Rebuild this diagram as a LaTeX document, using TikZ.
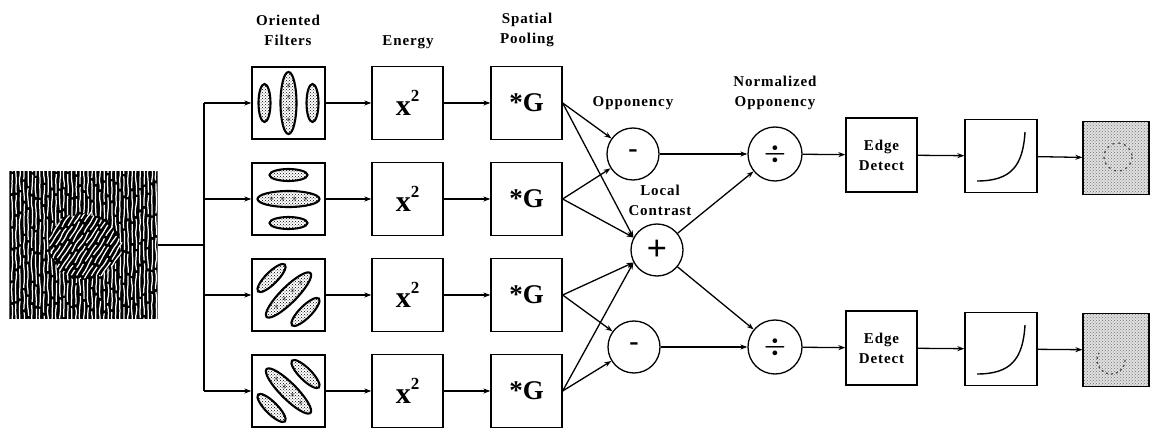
\documentclass[tikz,border=0pt]{standalone}
\usepackage{amsmath}
\usepackage{fontspec}
\setmainfont{Liberation Serif}
\newfontfamily\labfont[LetterSpace=6]{Liberation Serif}
\usetikzlibrary{arrows.meta,patterns,decorations.pathmorphing,calc}

% three elongated receptive fields inside a filter box, clipped to the box
\newcommand\filtericon[2]{%
  \begin{scope}
    \clip (#1.south west) rectangle (#1.north east);
    \begin{scope}[shift={(#1.center)}, rotate=#2]
      \foreach \dx/\ra/\rb in {-24/6/19, 0/8/31, 24/6/19}{
        \draw[line width=2.1pt, pattern=crosshatch dots, pattern color=black]
          (\dx,0) ellipse ({\ra} and {\rb});
      }
      \foreach \t in {-17,-6,6,17}
        \node[inner sep=0pt, font=\fontsize{10}{10}\selectfont] at (0,\t) {$\ast$};
    \end{scope}
  \end{scope}}

\begin{document}
\begin{tikzpicture}[x=1pt, y=-1pt, line width=1.3pt,
  box/.style={draw, minimum width=71pt, minimum height=73pt, inner sep=0pt},
  opnode/.style={draw, circle, minimum size=52pt, inner sep=0pt},
  divnode/.style={draw, circle, minimum size=54pt, inner sep=0pt},
  lab/.style={font=\labfont\bfseries\fontsize{15}{20}\selectfont, align=center},
  arr/.style={-{Stealth[length=7pt,width=5pt]}},
  outbox/.style={box, minimum width=66pt, preaction={fill=black!12},
                 pattern=crosshatch dots, pattern color=black!55},
  streak/.style={white, line width=1.25pt, rounded corners=2pt, decorate,
                 decoration={random steps, segment length=6pt, amplitude=0.8pt}}
]
\useasboundingbox (0,0) rectangle (1152,430);

% ---------- input texture ----------
\node[minimum width=147pt, minimum height=146pt, inner sep=0pt] (tex) at (83.5,245) {};
\begin{scope}
  \clip (tex.south west) rectangle (tex.north east);
  \fill[black] (tex.south west) rectangle (tex.north east);
  \pgfmathsetseed{11}
  \foreach \x in {12,16,...,158}{
    \pgfmathsetmacro\ph{rnd*40}
    \draw[streak, dash pattern=on 30pt off 2.5pt on 19pt off 3pt, dash phase=\ph pt]
      (\x,168) -- (\x,322);
  }
  \fill[black, decorate, decoration={random steps, segment length=6pt, amplitude=3pt}]
    (85,246) ellipse (35 and 32);
  \clip[decorate, decoration={random steps, segment length=6pt, amplitude=3pt}]
    (85,246) ellipse (35 and 32);
  \foreach \d in {-80,-75,...,80}{
    \pgfmathsetmacro\ph{rnd*20}
    \draw[streak, dash pattern=on 20pt off 3pt, dash phase=\ph pt]
      (85+\d-30,246+48) -- (85+\d+30,246-48);
  }
\end{scope}

% ---------- filter, energy and pooling rows ----------
\foreach \i/\y in {1/103, 2/199, 3/295, 4/391}{
  \node[box, minimum width=73pt, minimum height=72pt] (f\i) at (288.5,\y) {};
  \node[box] (e\i) at (407.5,\y) {\bfseries\fontsize{30}{30}\selectfont x\raisebox{0.45em}{\fontsize{17}{17}\selectfont 2}};
  \node[box] (g\i) at (526.5,\y) {\bfseries\fontsize{27}{27}\selectfont *G};
}
\filtericon{f1}{0}
\filtericon{f2}{90}
\filtericon{f3}{-45}
\filtericon{f4}{45}

% distribution bus
\coordinate (bt) at (204,103);
\coordinate (bb) at (204,391);
\coordinate (bm) at (204,245);
\coordinate (b2) at (204,199);
\coordinate (b3) at (204,295);
\draw (tex.east) -- (bm);
\draw (bt) -- (bb);
\draw[arr] (bt) -- (f1.west);
\draw[arr] (b2) -- (f2.west);
\draw[arr] (b3) -- (f3.west);
\draw[arr] (bb) -- (f4.west);
\foreach \i in {1,...,4}{
  \draw[arr] (f\i.east) -- (e\i.west);
  \draw[arr] (e\i.east) -- (g\i.west);
}

% ---------- opponency stage ----------
\node[opnode] (m1) at (633,154) {\bfseries\fontsize{28}{28}\selectfont -};
\node[opnode] (pl) at (657,250) {\bfseries\fontsize{36}{36}\selectfont +};
\node[opnode] (m2) at (634,347) {\bfseries\fontsize{28}{28}\selectfont -};
\node[divnode] (d1) at (775,154) {\fontsize{34}{34}\selectfont $\boldsymbol{\div}$};
\node[divnode] (d2) at (775,347) {\fontsize{34}{34}\selectfont $\boldsymbol{\div}$};

\draw[arr] (g1.east) -- (m1);
\draw[arr] (g2.east) -- (m1);
\draw[arr] (g1.east) -- (pl.152);
\draw[arr] (g2.east) -- (pl.152);
\draw[arr] (g3.east) -- (m2);
\draw[arr] (g4.east) -- (m2);
\draw[arr] (g3.east) -- (pl.208);
\draw[arr] (g4.east) -- (pl.208);
\draw[arr] (m1) -- (d1);
\draw[arr] (m2) -- (d2);
\draw[arr] (pl) -- (d1);
\draw[arr] (pl) -- (d2);

% ---------- edge detection, nonlinearity, output ----------
\node[box, minimum height=74pt, lab] (ed1) at (881.5,155) {Edge\\Detect};
\node[box, minimum height=74pt, lab] (ed2) at (881.5,348) {Edge\\Detect};
\node[box, minimum width=72pt] (c1) at (1001,156) {};
\node[box, minimum width=72pt] (c2) at (1001,349) {};
\node[outbox] (o1) at (1116,158) {};
\node[outbox] (o2) at (1116,350) {};

\draw[line width=1.4pt] ($(c1.center)+(-24,25)$) .. controls ($(c1.center)+(10,25)$) and ($(c1.center)+(22,10)$) .. ($(c1.center)+(24,-24)$);
\draw[line width=1.4pt] ($(c2.center)+(-24,25)$) .. controls ($(c2.center)+(10,25)$) and ($(c2.center)+(22,10)$) .. ($(c2.center)+(24,-24)$);

\draw[black!75, line width=1.2pt, dash pattern=on 2pt off 4pt] (1118,157) circle (14);
\draw[black!75, line width=1.2pt, dash pattern=on 2pt off 3pt] ($(o2.center)+(9,10)$) arc (0:210:14);

\draw[arr] (d1) -- (ed1);
\draw[arr] (d2) -- (ed2);
\draw[arr] (ed1) -- (c1);
\draw[arr] (ed2) -- (c2);
\draw[arr] (c1) -- (o1);
\draw[arr] (c2) -- (o2);

% ---------- stage labels ----------
\node[lab] (lf) at (288,30) {Oriented\\Filters};
\node[lab] (le) at (408,42) {Energy};
\node[lab] (lp) at (527,30) {Spatial\\Pooling};
\node[lab] (lo) at (633,103) {Opponency};
\node[lab] (ln) at (775,93) {Normalized\\Opponency};
\node[lab] (ll) at (660,200) {Local\\Contrast};
\end{tikzpicture}
\end{document}
